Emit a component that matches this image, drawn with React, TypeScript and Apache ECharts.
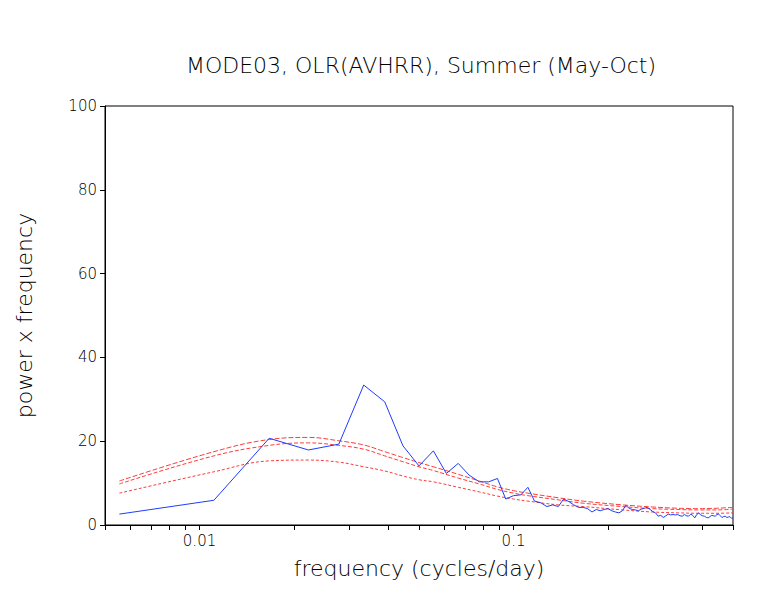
import React, { useEffect, useRef } from "react";
import * as echarts from "echarts";

// Record length in days: frequencies are harmonics k / recordDays (cycles/day)
const recordDays = 180;

// Blue: power x frequency spectrum, one value per harmonic k = 1..90
const spectrumValues = [
  2.6, 5.9, 20.7, 17.9, 19.3, 33.4, 29.4, 18.9, 14.1, 17.7,
  12.3, 14.7, 11.9, 10.3, 10.3, 11.1, 6.2, 7.0, 7.2, 9.0,
  5.7, 5.3, 4.4, 4.8, 4.4, 6.2, 5.6, 4.8, 4.2, 4.2,
  3.9, 3.1, 3.7, 3.4, 3.7, 3.9, 3.4, 3.1, 2.9, 3.4,
  4.7, 4.0, 3.7, 3.6, 3.4, 3.8, 4.0, 4.2, 3.7, 3.2,
  2.9, 2.1, 2.3, 1.8, 2.2, 2.6, 2.4, 2.5, 2.4, 2.5,
  2.2, 2.1, 2.5, 2.2, 2.1, 2.6, 2.3, 1.7, 2.5, 2.9,
  2.4, 2.2, 2.1, 1.8, 1.7, 2.0, 2.3, 2.2, 2.1, 2.5,
  2.6, 2.2, 1.8, 2.0, 2.1, 1.8, 1.9, 2.0, 1.6, 1.7,
];

// Red-noise curves, read at these harmonics
const redHarmonics = [1, 2, 3, 4, 5, 6, 7, 8, 9, 10, 12, 14, 16, 18, 20, 25, 30, 40, 50, 60, 70, 80, 90];
const redUpper = [10.5, 17.5, 20.4, 20.9, 20.1, 19.1, 17.5, 16.1, 14.9, 13.9, 12.1, 10.5, 9.1, 8.2, 7.6, 6.5, 5.7, 4.8, 4.3, 4.0, 3.9, 4.0, 4.2];
const redMiddle = [9.8, 16.5, 19.0, 19.6, 19.0, 18.1, 16.5, 15.1, 13.9, 13.0, 11.2, 9.8, 8.5, 7.6, 7.0, 6.0, 5.2, 4.4, 3.9, 3.7, 3.6, 3.6, 3.8];
const redLower = [7.6, 12.7, 15.3, 15.5, 15.0, 13.9, 12.9, 11.7, 10.8, 10.3, 9.0, 7.9, 6.9, 6.2, 5.7, 4.8, 4.4, 3.6, 3.1, 2.9, 2.8, 2.8, 2.9];

// Axis ticks and labels
const xTickValues = [0.005, 0.006, 0.007, 0.008, 0.009, 0.01, 0.02, 0.03, 0.04, 0.05, 0.06, 0.07, 0.08, 0.09, 0.1, 0.2, 0.3, 0.4, 0.5];
const xLabelValues = [0.01, 0.1];
const xLabelTexts = ["0.01", "0.1"];

const titleText = "MODE03, OLR(AVHRR), Summer (May-Oct)";
const xName = "frequency (cycles/day)";
const yName = "power x frequency";

const FONT = "'DejaVu Sans', sans-serif";
const BLUE = "#1f3cff";
const RED = "#ff3b3b";

export default function App() {
  const ref = useRef<HTMLDivElement>(null);

  useEffect(() => {
    document.body.style.margin = "0";
    const chart = echarts.init(ref.current!, null, { renderer: "svg" });
    const spectrum = spectrumValues.map((v, i) => [(i + 1) / recordDays, v]);
    const red = (arr: number[]) => redHarmonics.map((k, i) => [k / recordDays, arr[i]]);

    chart.setOption({
      animation: false,
      backgroundColor: "#ffffff",
      grid: {
        left: 105,
        right: 37,
        top: 106,
        bottom: 70,
        show: true,
        borderColor: "#000",
        borderWidth: 1,
        backgroundColor: "transparent",
      },
      graphic: [
        {
          type: "text",
          x: 421,
          y: 65,
          style: {
            text: titleText,
            fill: "#000",
            fontSize: 22,
            fontFamily: FONT,
            fontWeight: 200,
            align: "center",
            verticalAlign: "middle",
          },
        },
      ],
      xAxis: {
        type: "log",
        logBase: 10,
        min: 0.005,
        max: 0.5,
        name: xName,
        nameLocation: "middle",
        nameGap: 32,
        nameTextStyle: { color: "#000", fontSize: 22, fontFamily: FONT, fontWeight: 200 },
        axisLine: { show: true, lineStyle: { color: "#000", width: 1 } },
        axisTick: {
          show: true,
          inside: false,
          length: 5,
          lineStyle: { color: "#000", width: 1 },
          customValues: xTickValues,
        },
        minorTick: { show: false },
        axisLabel: {
          show: true,
          margin: 8,
          color: "#000",
          fontSize: 15,
          fontFamily: FONT,
          fontWeight: 200,
          customValues: xLabelValues,
          formatter: (v: number) => (v < 0.05 ? xLabelTexts[0] : xLabelTexts[1]),
        },
        splitLine: { show: false },
        minorSplitLine: { show: false },
      },
      yAxis: {
        type: "value",
        min: 0,
        max: 100,
        interval: 20,
        name: yName,
        nameLocation: "middle",
        nameRotate: 90,
        nameGap: 70,
        nameTextStyle: { color: "#000", fontSize: 22, fontFamily: FONT, fontWeight: 200 },
        axisLine: { show: true, lineStyle: { color: "#000", width: 1 } },
        axisTick: { show: true, inside: false, length: 5, lineStyle: { color: "#000", width: 1 } },
        axisLabel: { margin: 8, color: "#000", fontSize: 15, fontFamily: FONT, fontWeight: 200 },
        splitLine: { show: false },
      },
      series: [
        {
          type: "line",
          data: red(redUpper),
          symbol: "none",
          smooth: 0.4,
          lineStyle: { color: RED, width: 1, type: [5, 2] },
        },
        {
          type: "line",
          data: red(redMiddle),
          symbol: "none",
          smooth: 0.4,
          lineStyle: { color: RED, width: 1, type: [4, 2] },
        },
        {
          type: "line",
          data: red(redLower),
          symbol: "none",
          smooth: 0.4,
          lineStyle: { color: RED, width: 1, type: [3, 2] },
        },
        {
          type: "line",
          data: spectrum,
          symbol: "none",
          lineStyle: { color: BLUE, width: 1 },
        },
      ],
    });
    return () => chart.dispose();
  }, []);

  return <div ref={ref} style={{ width: 770, height: 595 }} />;
}
